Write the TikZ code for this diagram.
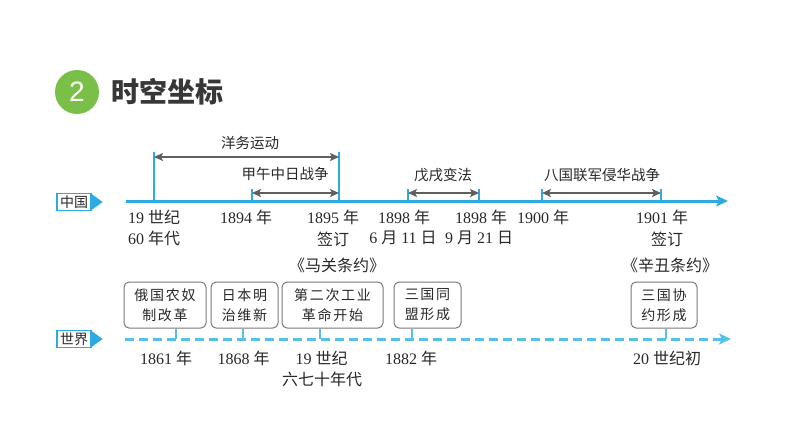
\documentclass[tikz,border=0pt]{standalone}
\usepackage{fontspec}
\setmainfont{Liberation Serif}
\newfontfamily\cjk{Noto Sans CJK SC}
\newfontfamily\cjkbox{Noto Sans CJK SC}[LetterSpace=12]
\newfontfamily\sansnum{Liberation Sans}
\usetikzlibrary{arrows.meta}
\newcommand\zhs[1]{{\cjk #1}}
\definecolor{axisblue}{RGB}{45,170,225}
\definecolor{dashblue}{RGB}{85,192,232}
\definecolor{titlegreen}{RGB}{122,192,72}
\definecolor{titlegray}{RGB}{55,55,55}
\definecolor{arrowgray}{RGB}{95,95,95}
\definecolor{boxgray}{RGB}{120,120,120}
\definecolor{txt}{RGB}{40,40,40}
\tikzset{
  axisline/.style={axisblue, line width=3pt, -{Stealth[length=12pt,width=11pt,inset=3pt]}},
  worldline/.style={dashblue, line width=3pt, dash pattern=on 9pt off 5pt, -{Stealth[length=12pt,width=11pt,inset=3pt]}},
  ticktall/.style={axisblue, line width=1.3pt},
  tickshort/.style={axisblue, line width=1.3pt},
  spanarrow/.style={arrowgray, line width=1.8pt, {Stealth[length=9pt,width=8pt,inset=2pt]}-{Stealth[length=9pt,width=8pt,inset=2pt]}},
  evlabel/.style={font=\cjk\fontsize{14.5}{14.5}\selectfont, text=txt, inner sep=0pt},
  datelabel/.style={font=\fontsize{16}{16}\selectfont, text=txt, inner sep=0pt},
  labelbox/.style={draw=axisblue, line width=1.2pt, fill=white, minimum width=34pt, minimum height=17pt, inner sep=0pt, font=\cjk\fontsize{14}{14}\selectfont, text=txt},
  evbox/.style={draw=boxgray, line width=1pt, rounded corners=5pt, minimum height=46pt, inner sep=0pt, align=center, font=\cjkbox\fontsize{14}{20}\selectfont, text=txt},
  boxtick/.style={dashblue, line width=1.3pt},
}
\begin{document}
\begin{tikzpicture}[x=1pt,y=-1pt]
\useasboundingbox (0,0) rectangle (794,447);
% title
\node[circle, fill=titlegreen, minimum size=44pt, inner sep=0pt, text=white, font=\sansnum\fontsize{28}{28}\selectfont] (num) at (77,92) {2};
\node[anchor=west, inner sep=0pt, font=\cjk\bfseries\fontsize{28}{28}\selectfont, text=titlegray] (title) at (111,92) {时空坐标};

% China axis
\coordinate (cs) at (126,201);
\coordinate (ce) at (728,201);
\draw[axisline] (cs) -- (ce);
\node[labelbox] (cn) at (74,202) {中国};
\fill[axisblue] ([yshift=8pt]cn.east) -- ++(11,8) -- ++(-11,8) -- cycle;

% ticks on China axis
\coordinate (c60) at (154,201);
\coordinate (c94) at (252,201);
\coordinate (c95) at (339,201);
\coordinate (c98a) at (408,201);
\coordinate (c98b) at (479,201);
\coordinate (c00) at (542,201);
\coordinate (c01) at (661,201);
\coordinate (c60t) at (154,152);
\coordinate (c95t) at (339,152);
\draw[ticktall] (c60) -- (c60t);
\draw[ticktall] (c95) -- (c95t);
\foreach \c in {c94,c98a,c98b,c00,c01}{
  \draw[tickshort] (\c) -- ++(0,-12);
}
% span arrows
\draw[spanarrow] ([yshift=44pt]c60) -- ([yshift=44pt]c95);
\draw[spanarrow] ([yshift=8pt]c94) -- ([yshift=8pt]c95);
\draw[spanarrow] ([yshift=8pt]c98a) -- ([yshift=8pt]c98b);
\draw[spanarrow] ([yshift=8pt]c00) -- ([yshift=8pt]c01);
% span labels
\node[evlabel] (yw) at (250,143) {洋务运动};
\node[evlabel] (jw) at (285,174) {甲午中日战争};
\node[evlabel] (wx) at (443,175) {戊戌变法};
\node[evlabel] (bg) at (602,175) {八国联军侵华战争};

% China dates
\node[datelabel] (d1a) at (154,217) {19 \zhs{世纪}};
\node[datelabel] (d1b) at (154,238) {60 \zhs{年代}};
\node[datelabel] (d2) at (246,217) {1894 \zhs{年}};
\node[datelabel] (d3a) at (333,217) {1895 \zhs{年}};
\node[datelabel] (d3b) at (333,239) {\zhs{签订}};
\node[datelabel] (d3c) at (337,265) {\zhs{《马关条约》}};
\node[datelabel] (d4a) at (404,217) {1898 \zhs{年}};
\node[datelabel] (d4b) at (403,238) {6 \zhs{月} 11 \zhs{日}};
\node[datelabel] (d5a) at (481,217) {1898 \zhs{年}};
\node[datelabel] (d5b) at (479,238) {9 \zhs{月} 21 \zhs{日}};
\node[datelabel] (d6) at (543,217) {1900 \zhs{年}};
\node[datelabel] (d7a) at (662,217) {1901 \zhs{年}};
\node[datelabel] (d7b) at (667,239) {\zhs{签订}};
\node[datelabel] (d7c) at (670,265) {\zhs{《辛丑条约》}};

% World axis
\coordinate (ws) at (125,339);
\coordinate (we) at (731,339);
\draw[worldline] (ws) -- (we);
\node[labelbox] (wd) at (74,339) {世界};
\fill[axisblue] ([yshift=8pt]wd.east) -- ++(11,8) -- ++(-11,8) -- cycle;

% event boxes
\node[evbox, minimum width=82pt] (b1) at (165,305) {俄国农奴\\制改革};
\node[evbox, minimum width=67pt] (b2) at (244.5,305) {日本明\\治维新};
\node[evbox, minimum width=101pt] (b3) at (332.5,305) {第二次工业\\革命开始};
\node[evbox, minimum width=67pt] (b4) at (427.5,305) {三国同\\盟形成};
\node[evbox, minimum width=66pt] (b5) at (664,305) {三国协\\约形成};
\coordinate (w1) at (176,339);
\coordinate (w2) at (243,339);
\coordinate (w3) at (320,339);
\coordinate (w4) at (412,339);
\coordinate (w5) at (666,339);
\draw[boxtick] (w1) -- (w1 |- b1.south);
\draw[boxtick] (w2) -- (w2 |- b2.south);
\draw[boxtick] (w3) -- (w3 |- b3.south);
\draw[boxtick] (w4) -- (w4 |- b4.south);
\draw[boxtick] (w5) -- (w5 |- b5.south);

% World dates
\node[datelabel] (e1) at (166,358) {1861 \zhs{年}};
\node[datelabel] (e2) at (243.5,358) {1868 \zhs{年}};
\node[datelabel] (e3a) at (321.5,358) {19 \zhs{世纪}};
\node[datelabel] (e3b) at (322,379) {\zhs{六七十年代}};
\node[datelabel] (e4) at (411,358) {1882 \zhs{年}};
\node[datelabel] (e5) at (667,358) {20 \zhs{世纪初}};
\end{tikzpicture}
\end{document}
